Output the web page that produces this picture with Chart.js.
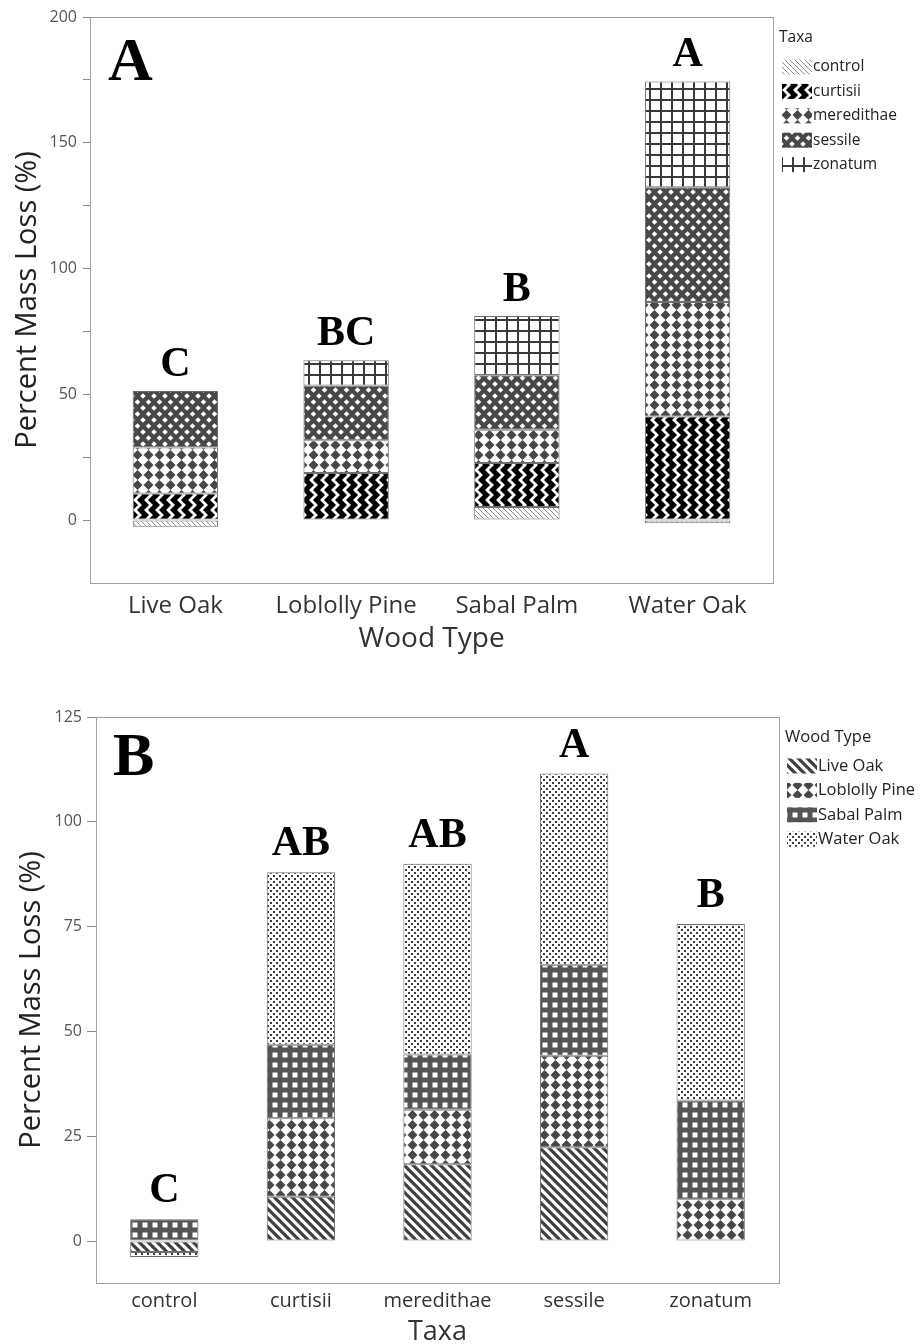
<!DOCTYPE html>
<html>
<head>
<meta charset="utf-8">
<script src="https://cdn.jsdelivr.net/npm/chart.js@4.4.1/dist/chart.umd.min.js"></script>
<style>
  html, body { margin: 0; padding: 0; background: #fff; }
  body { width: 920px; height: 1344px; position: relative; overflow: hidden; }
  .box { position: absolute; left: 0; width: 920px; }
  #boxA { top: 0; height: 672px; }
  #boxB { top: 680px; height: 664px; }
</style>
</head>
<body>
<div class="box" id="boxA"><canvas id="chartA"></canvas></div>
<div class="box" id="boxB"><canvas id="chartB"></canvas></div>
<script>
const woodTypes = ['Live Oak', 'Loblolly Pine', 'Sabal Palm', 'Water Oak'];
const taxa = ['control', 'curtisii', 'meredithae', 'sessile', 'zonatum'];

// percent mass loss per taxon (same order as taxa), one list per wood type
const liveOak      = [-2.6, 10.6, 18.3, 22.4, 0];
const loblollyPine = [0, 18.7, 13.0, 21.8, 10.0];
const sabalPalm    = [5.2, 17.5, 13.2, 21.7, 23.5];
const waterOak     = [-1.2, 41.2, 45.5, 45.6, 42.1];

const lettersWood = ['C', 'BC', 'B', 'A'];
const lettersTaxa = ['C', 'AB', 'AB', 'A', 'B'];

const yTicksA = [0, 25, 50, 75, 100, 125, 150, 175, 200];
const yTicksB = [0, 25, 50, 75, 100, 125];

const byWood = [liveOak, loblollyPine, sabalPalm, waterOak];

const sansFont = '"Open Sans", "Noto Sans", sans-serif';
const serifFont = '"Liberation Serif", "Times New Roman", serif';
const ink = '#474747';

// ---- fill patterns ----
function makePattern(ctx, w, h, draw) {
  const c = document.createElement('canvas');
  c.width = w; c.height = h;
  const g = c.getContext('2d');
  draw(g, w, h);
  return ctx.createPattern(c, 'repeat');
}

function diamond(g, cx, cy, r) {
  g.beginPath();
  g.moveTo(cx, cy - r); g.lineTo(cx + r, cy); g.lineTo(cx, cy + r); g.lineTo(cx - r, cy);
  g.closePath(); g.fill();
}

function stripes(color, lw) {
  return (g, w, h) => {
    g.fillStyle = '#fff'; g.fillRect(0, 0, w, h);
    g.strokeStyle = color; g.lineWidth = lw;
    g.beginPath();
    for (let k = -1; k <= 1; k++) { g.moveTo(k * w - 1, -1); g.lineTo(k * w + w + 1, h + 1); }
    g.stroke();
  };
}

function zigzag(g, w, h) {
  g.fillStyle = '#000'; g.fillRect(0, 0, w, h);
  g.strokeStyle = '#fff'; g.lineWidth = 2.8;
  g.lineJoin = 'miter';
  g.beginPath();
  g.moveTo(8, -5); g.lineTo(3, 0); g.lineTo(8, 5); g.lineTo(3, 10); g.lineTo(8, 15);
  g.stroke();
}

function darkDiamonds(g, w, h) {
  g.fillStyle = '#fff'; g.fillRect(0, 0, w, h);
  g.fillStyle = ink;
  diamond(g, w / 2, h / 2, 5);
}

function lightDiamonds(g, w, h) {
  g.fillStyle = ink; g.fillRect(0, 0, w, h);
  g.fillStyle = '#fff';
  diamond(g, 0, 0, 2.8); diamond(g, w, 0, 2.8); diamond(g, 0, h, 2.8); diamond(g, w, h, 2.8);
  diamond(g, w / 2, h / 2, 2.8);
}

function thinGrid(g, w, h) {
  g.fillStyle = '#fff'; g.fillRect(0, 0, w, h);
  g.fillStyle = '#3a3a3a';
  g.fillRect(0, 0, w, 2); g.fillRect(0, 0, 2, h);
}

function thickGrid(g, w, h) {
  g.fillStyle = '#555'; g.fillRect(0, 0, w, h);
  g.fillStyle = '#fff';
  g.fillRect(2.5, 2.5, 5, 5);
}

function dots(g, w, h) {
  g.fillStyle = '#fff'; g.fillRect(0, 0, w, h);
  g.fillStyle = '#3c3c3c';
  g.fillRect(0, 0, 2, 2); g.fillRect(3, 3, 2, 2);
}

// ---- plugins ----
const framePlugin = {
  id: 'frame',
  beforeDatasetsDraw(chart) {
    const { ctx, chartArea: a } = chart;
    ctx.save();
    ctx.strokeStyle = '#a0a0a0'; ctx.lineWidth = 1;
    ctx.strokeRect(Math.round(a.left) + 0.5, Math.round(a.top) + 0.5,
      Math.round(a.right - a.left), Math.round(a.bottom - a.top));
    ctx.restore();
  }
};

const lettersPlugin = {
  id: 'letters',
  afterDatasetsDraw(chart, args, opts) {
    const { ctx, chartArea: a } = chart;
    const xs = chart.scales.x, ys = chart.scales.y;
    ctx.save();
    ctx.fillStyle = '#000';
    ctx.textAlign = 'center';
    ctx.textBaseline = 'alphabetic';
    ctx.font = 'bold 42px ' + serifFont;
    opts.letters.forEach((t, i) => {
      let total = 0;
      chart.data.datasets.forEach(d => { total += Math.max(0, d.data[i]); });
      ctx.fillText(t, xs.getPixelForValue(i), ys.getPixelForValue(total) - opts.gap);
    });
    ctx.textAlign = 'left';
    ctx.font = 'bold 62px ' + serifFont;
    ctx.fillText(opts.panel, a.left + opts.panelDx, a.top + opts.panelDy);
    ctx.restore();
  }
};

const keyPlugin = {
  id: 'key',
  afterDraw(chart, args, opts) {
    const { ctx, chartArea: a } = chart;
    ctx.save();
    ctx.font = opts.size + 'px ' + sansFont;
    ctx.fillStyle = '#222';
    ctx.textBaseline = 'middle';
    ctx.textAlign = 'left';
    ctx.fillText(opts.title, a.right + 6, opts.titleY);
    chart.data.datasets.forEach((d, i) => {
      const y = opts.firstY + i * 24.4;
      const bx = a.right + opts.boxDx;
      ctx.fillStyle = d.backgroundColor;
      ctx.fillRect(bx, y - 7.5, 30, 15);
      ctx.fillStyle = '#222';
      ctx.fillText(d.label, bx + 31, y);
    });
    ctx.restore();
  }
};

function axes(cfg) {
  return {
    x: {
      stacked: true,
      grid: { display: false, drawTicks: false },
      border: { display: false },
      ticks: { font: { family: sansFont, size: cfg.xSize, lineHeight: 1 }, color: '#333',
        padding: cfg.xPad, maxRotation: 0, autoSkip: false },
      title: { display: true, text: cfg.xTitle, color: '#333',
        font: { family: sansFont, size: cfg.xTitleSize, lineHeight: 1 },
        padding: { top: 0, bottom: cfg.xTitlePad } },
      afterFit: s => { s.height = cfg.xHeight; }
    },
    y: {
      stacked: true, min: cfg.min, max: cfg.max,
      afterBuildTicks: s => { s.ticks = cfg.ticks.map(v => ({ value: v })); },
      grid: { drawOnChartArea: false, tickLength: cfg.tickLen, color: '#8a8a8a' },
      border: { display: false },
      ticks: { font: { family: sansFont, size: 16 }, color: '#555', padding: cfg.yPad,
        callback: v => (v % cfg.labelEvery === 0 ? v : '') },
      title: { display: true, text: 'Percent Mass Loss (%)', color: '#222',
        font: { family: sansFont, size: 29, lineHeight: 1.2 },
        padding: { top: cfg.yTitlePad, bottom: 0 } },
      afterFit: s => { s.width = cfg.yWidth; }
    }
  };
}

// ---- chart A: by wood type, stacked by taxon ----
const ctxA = document.getElementById('chartA').getContext('2d');
const patsA = [
  makePattern(ctxA, 5, 5, stripes('#8a8a8a', 1)),
  makePattern(ctxA, 11, 10, zigzag),
  makePattern(ctxA, 11, 10, darkDiamonds),
  makePattern(ctxA, 11, 12, lightDiamonds),
  makePattern(ctxA, 11, 11, thinGrid)
];

new Chart(ctxA, {
  type: 'bar',
  data: {
    labels: woodTypes,
    datasets: taxa.map((t, i) => ({
      label: t,
      data: byWood.map(w => w[i]),
      backgroundColor: patsA[i],
      borderColor: '#6e6e6e', borderWidth: 1, borderSkipped: false,
      barPercentage: 0.5, categoryPercentage: 1
    }))
  },
  options: {
    responsive: true, maintainAspectRatio: false, animation: false,
    layout: { padding: { top: 17, right: 147, left: 0, bottom: 0 } },
    plugins: {
      legend: { display: false }, tooltip: { enabled: false },
      letters: { letters: lettersWood, gap: 15, panel: 'A', panelDx: 18, panelDy: 63 },
      key: { title: 'Taxa', titleY: 38, firstY: 67, boxDx: 9, size: 15.5 }
    },
    scales: axes({ xTitle: 'Wood Type', xSize: 24, xPad: 11, xTitleSize: 28, xTitlePad: 19,
      xHeight: 89, min: -25, max: 200, ticks: yTicksA, labelEvery: 50,
      tickLen: 7, yPad: 6, yTitlePad: 10, yWidth: 90 })
  },
  plugins: [framePlugin, lettersPlugin, keyPlugin]
});

// ---- chart B: by taxon, stacked by wood type ----
const ctxB = document.getElementById('chartB').getContext('2d');
const patsB = [
  makePattern(ctxB, 9, 9, stripes('#404040', 3.2)),
  makePattern(ctxB, 11, 10, darkDiamonds),
  makePattern(ctxB, 10, 10, thickGrid),
  makePattern(ctxB, 6, 6, dots)
];

new Chart(ctxB, {
  type: 'bar',
  data: {
    labels: taxa,
    datasets: woodTypes.map((w, i) => ({
      label: w,
      data: byWood[i],
      backgroundColor: patsB[i],
      borderColor: '#6e6e6e', borderWidth: 1, borderSkipped: false,
      barPercentage: 0.5, categoryPercentage: 1
    }))
  },
  options: {
    responsive: true, maintainAspectRatio: false, animation: false,
    layout: { padding: { top: 37, right: 141, left: 0, bottom: 0 } },
    plugins: {
      legend: { display: false }, tooltip: { enabled: false },
      letters: { letters: lettersTaxa, gap: 17, panel: 'B', panelDx: 17, panelDy: 58 },
      key: { title: 'Wood Type', titleY: 57, firstY: 86, boxDx: 8, size: 16.5 }
    },
    scales: axes({ xTitle: 'Taxa', xSize: 20, xPad: 8, xTitleSize: 27, xTitlePad: -2,
      xHeight: 61, min: -10, max: 125, ticks: yTicksB, labelEvery: 25,
      tickLen: 9, yPad: 5, yTitlePad: 14, yWidth: 96 })
  },
  plugins: [framePlugin, lettersPlugin, keyPlugin]
});
</script>
</body>
</html>
